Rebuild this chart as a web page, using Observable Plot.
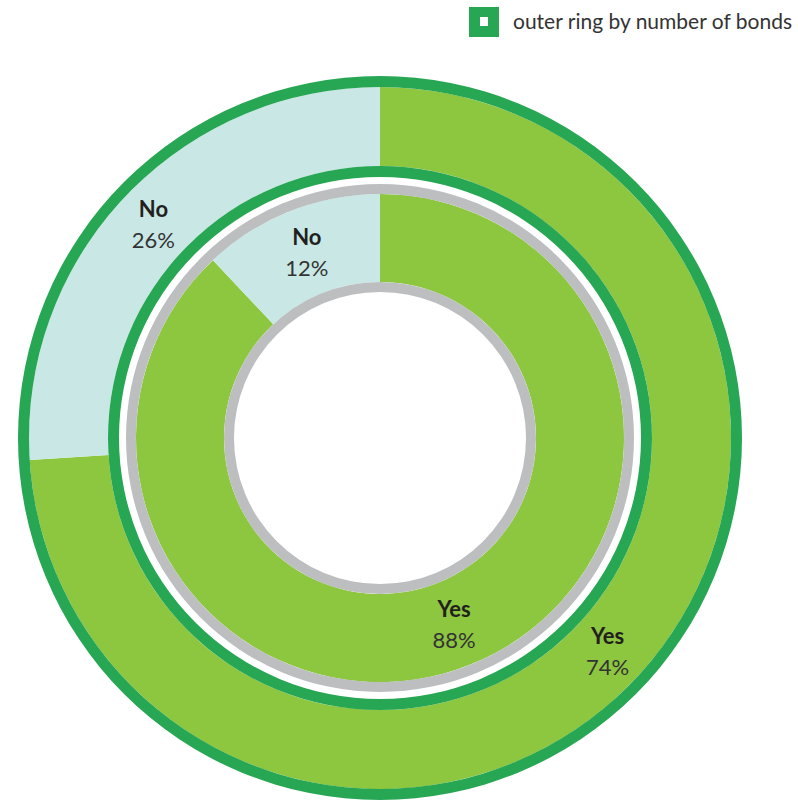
<!DOCTYPE html>
<html><head><meta charset="utf-8">
<script src="https://cdn.jsdelivr.net/npm/d3@7"></script>
<script src="https://cdn.jsdelivr.net/npm/@observablehq/plot@0.6"></script>
<style>
body{margin:0;background:#fff;font-family:Lato,"Open Sans",sans-serif;}
#legend{height:46px;position:relative;width:798px;}
.sw{position:absolute;left:469px;top:7px;width:30px;height:30px;background:#27a654;}
.sw::after{content:"";position:absolute;left:11px;top:10px;width:8px;height:9px;background:#fff;}
.lt{position:absolute;left:513px;top:8px;font-size:21px;color:#333;line-height:26px;white-space:nowrap;}
</style></head><body>
<div id="legend"><div class="sw"></div><div class="lt" id="lt"></div></div>
<div id="chart"></div>
<script>
// ---- data ----
const categories = ["Yes", "No"];
const outerValues = [74, 26];
const innerValues = [88, 12];
const legendLabel = "outer ring by number of bonds";

// ---- styles ----
const fills = {Yes: "#8dc63f", No: "#c9e8e5"};
const GREEN = "#27a654", GRAY = "#bcbec0";
const W = 798, H = 754, CX = 380, CY = 392;

document.getElementById("lt").textContent = legendLabel;

function slicesFor(values, r0, r1, ring) {
  const total = d3.sum(values);
  let acc = 0;
  return categories.map((cat, i) => {
    const a0 = acc / total * 2 * Math.PI;
    acc += values[i];
    const a1 = acc / total * 2 * Math.PI;
    return {ring, cat, value: values[i], r0, r1, a0, a1, mid: (a0 + a1) / 2, rm: (r0 + r1) / 2};
  });
}
const outerSlices = slicesFor(outerValues, 272, 351, "outer");
const innerSlices = slicesFor(innerValues, 156, 244, "inner");
const slices = [...outerSlices, ...innerSlices];
const bands = [
  {r0: 351, r1: 362, color: GREEN},
  {r0: 261, r1: 272, color: GREEN},
  {r0: 244, r1: 254, color: GRAY},
  {r0: 146, r1: 156, color: GRAY}
];

const labels = slices.map(s => ({
  x: s.rm * Math.sin(s.mid),
  y: s.rm * Math.cos(s.mid),
  name: s.cat,
  pct: s.value + "%"
}));

function rings(index, scales) {
  const cx = scales.x(0), cy = scales.y(0);
  const px = r => Math.abs(scales.x(r) - scales.x(0));
  const g = d3.create("svg:g").attr("transform", `translate(${cx},${cy})`);
  const arc = d3.arc();
  for (const s of slices) {
    g.append("path")
      .attr("d", arc({innerRadius: px(s.r0), outerRadius: px(s.r1), startAngle: s.a0, endAngle: s.a1}))
      .attr("fill", fills[s.cat]);
  }
  for (const b of bands) {
    g.append("path")
      .attr("d", arc({innerRadius: px(b.r0), outerRadius: px(b.r1), startAngle: 0, endAngle: 2 * Math.PI}))
      .attr("fill", b.color);
  }
  return g.node();
}

const chart = Plot.plot({
  width: W,
  height: H,
  margin: 0,
  style: {fontFamily: "Lato, 'Open Sans', sans-serif", background: "#fff"},
  x: {domain: [-CX, W - CX], range: [0, W], axis: null},
  y: {domain: [-(H - CY), CY], range: [H, 0], axis: null},
  marks: [
    rings,
    Plot.text(labels, {x: "x", y: "y", text: "name", dy: -15, fontSize: 22, fontWeight: "bold", fill: "#231f20"}),
    Plot.text(labels, {x: "x", y: "y", text: "pct", dy: 16, fontSize: 22, fill: "#333"})
  ]
});
document.getElementById("chart").appendChild(chart);
</script>
</body></html>
